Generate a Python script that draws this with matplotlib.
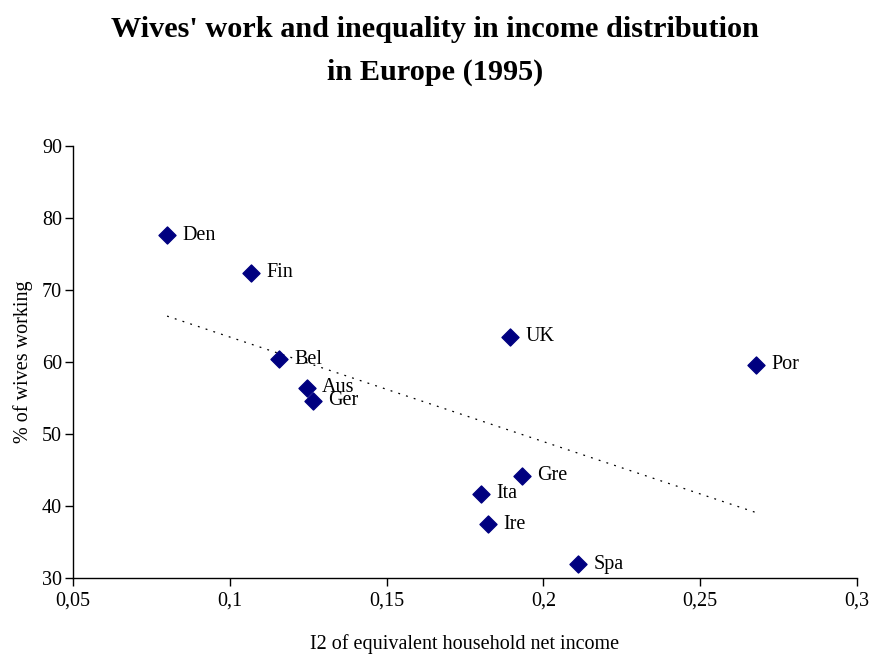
import numpy as np
import matplotlib
matplotlib.use("Agg")
import matplotlib.pyplot as plt

countries = ["Den", "Fin", "Bel", "Aus", "Ger", "UK", "Por", "Gre", "Ita", "Ire", "Spa"]
inequality = [0.080, 0.1068, 0.1157, 0.1246, 0.1265, 0.1893, 0.2678, 0.1932, 0.1800, 0.1823, 0.2110]
wives_working = [77.6, 72.4, 60.4, 56.4, 54.6, 63.5, 59.6, 44.2, 41.7, 37.5, 31.9]
x_ticks = [0.05, 0.1, 0.15, 0.2, 0.25, 0.3]
x_tick_labels = ["0,05", "0,1", "0,15", "0,2", "0,25", "0,3"]
y_ticks = [30, 40, 50, 60, 70, 80, 90]

plt.rcParams['font.family'] = ['Liberation Serif', 'DejaVu Serif']

fig = plt.figure(figsize=(8.7, 6.56), dpi=100)
ax = fig.add_axes([0.0839, 0.1189, 0.9011, 0.6585])

ax.scatter(inequality, wives_working, marker='D', s=75, color='#000080', zorder=3)

# linear trend line (least squares), over data range
coef = np.polyfit(inequality, wives_working, 1)
xs = np.array([min(inequality), max(inequality)])
ax.plot(xs, np.polyval(coef, xs), color='black', linestyle=(0, (1.5, 5)), linewidth=0.9)

fs = 14.5
for c, x, y in zip(countries, inequality, wives_working):
    ax.annotate(c, (x, y), xytext=(11, 0), textcoords='offset points',
                va='center', ha='left', fontsize=fs)

ax.set_xlim(0.05, 0.3)
ax.set_ylim(30, 90)
ax.set_xticks(x_ticks)
ax.set_xticklabels(x_tick_labels)
ax.set_yticks(y_ticks)
ax.tick_params(labelsize=fs, direction='out', length=6, width=1)
ax.tick_params(axis='y', pad=2)
for s in ['top', 'right']:
    ax.spines[s].set_visible(False)
for s in ['left', 'bottom']:
    ax.spines[s].set_linewidth(1)

ax.set_xlabel("I2 of equivalent household net income", fontsize=fs, labelpad=17)
ax.set_ylabel("% of wives working", fontsize=fs, labelpad=6)

fig.text(0.5, 0.922, "Wives' work and inequality in income distribution\nin Europe (1995)",
         ha='center', va='center', fontsize=21.8, fontweight='bold', linespacing=1.75)

fig.savefig("out.png", dpi=100)
